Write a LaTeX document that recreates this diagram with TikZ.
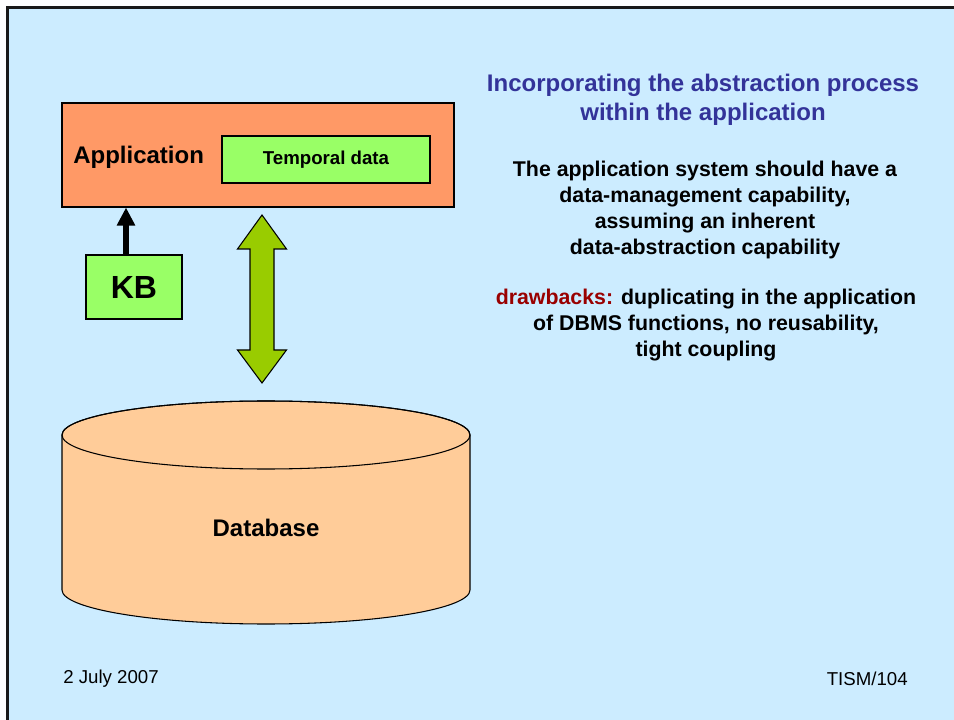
\documentclass[tikz,border=0pt]{standalone}
\usepackage{fontspec}
\setmainfont{Liberation Sans}
\usetikzlibrary{arrows.meta}

\definecolor{slidebg}{RGB}{204,236,255}
\definecolor{appfill}{RGB}{255,153,102}
\definecolor{lightgreen}{RGB}{153,255,102}
\definecolor{arrowgreen}{RGB}{153,204,0}
\definecolor{dbfill}{RGB}{255,204,153}
\definecolor{titleblue}{RGB}{51,51,153}
\definecolor{drawred}{RGB}{153,0,0}

\tikzset{
  boxline/.style={draw=black, line width=0.8pt},
  appbox/.style={boxline, fill=appfill, minimum width=294pt, minimum height=78pt, inner sep=0pt},
  greenbox/.style={boxline, fill=lightgreen, inner sep=0pt},
  kbarrow/.style={draw=black, line width=5pt, -{Triangle[width=13pt,length=13.5pt]}},
  dbarrow/.style={boxline, fill=arrowgreen, line join=miter},
  cylstyle/.style={boxline, fill=dbfill},
  bodytext/.style={font=\bfseries\fontsize{16}{19.5}\selectfont, align=center, inner sep=0pt},
  foot/.style={font=\fontsize{14}{16}\selectfont, inner sep=0pt}
}

\begin{document}
\begin{tikzpicture}[x=0.75pt,y=-0.75pt]
\useasboundingbox (0,0) rectangle (954,720);

% slide background and frame
\fill[white] (0,0) rectangle (954,720);
\fill[slidebg] (7,8) rectangle (954,720);
\draw[line width=2.25pt, black!90] (954,8) -- (7.2,8) -- (7.2,720);

% application block
\node[appbox] (app) at (258,155) {};
\node[font=\bfseries\fontsize{18}{21}\selectfont, anchor=west, inner sep=0pt] (applabel) at (73,157) {Application};
\node[greenbox, minimum width=156pt, minimum height=35.25pt, font=\bfseries\fontsize{14}{16}\selectfont] (temporal) at (326,159.5) {Temporal data};

% knowledge base feeding the application
\node[greenbox, minimum width=72pt, minimum height=48pt, font=\bfseries\fontsize{24}{28}\selectfont] (kb) at (134,287) {KB};
\coordinate (kbtop) at ([xshift=-6pt]kb.north);
\draw[kbarrow] (kbtop) -- (kbtop |- app.south);

% database cylinder
\path[cylstyle] (62,435) -- (62,590)
  arc[start angle=180, end angle=360, x radius=153pt, y radius=25.5pt]
  -- (470,435)
  arc[start angle=0, end angle=180, x radius=153pt, y radius=25.5pt] -- cycle;
\draw[boxline] (266,435) ellipse[x radius=153pt, y radius=25.5pt];
\node[font=\bfseries\fontsize{18}{21}\selectfont] (db) at (266,528) {Database};

% two-way exchange between application and database
\coordinate (uptip) at (262,215);
\coordinate (downtip) at (262,383);
\draw[dbarrow] (uptip) -- (286.5,249) -- (274,249) -- (274,350) -- (286.5,350)
  -- (downtip) -- (237.5,350) -- (250,350) -- (250,249) -- (237.5,249) -- cycle;

% explanatory text
\node[font=\bfseries\fontsize{18}{21.5}\selectfont, text=titleblue, align=center, inner sep=0pt] (title) at (703,100)
  {Incorporating the abstraction process\\within the application};
\node[bodytext] (claim) at (705,210)
  {The application system should have a\\data-management capability,\\assuming an inherent\\data-abstraction capability};
\node[bodytext] (cons) at (706,325)
  {\textcolor{drawred}{drawbacks:} duplicating in the application\\of DBMS functions, no reusability,\\tight coupling};

% footer
\node[foot, anchor=west] (date) at (63,679) {2 July 2007};
\node[foot, anchor=east] (page) at (908,679) {TISM/104};
\end{tikzpicture}
\end{document}
